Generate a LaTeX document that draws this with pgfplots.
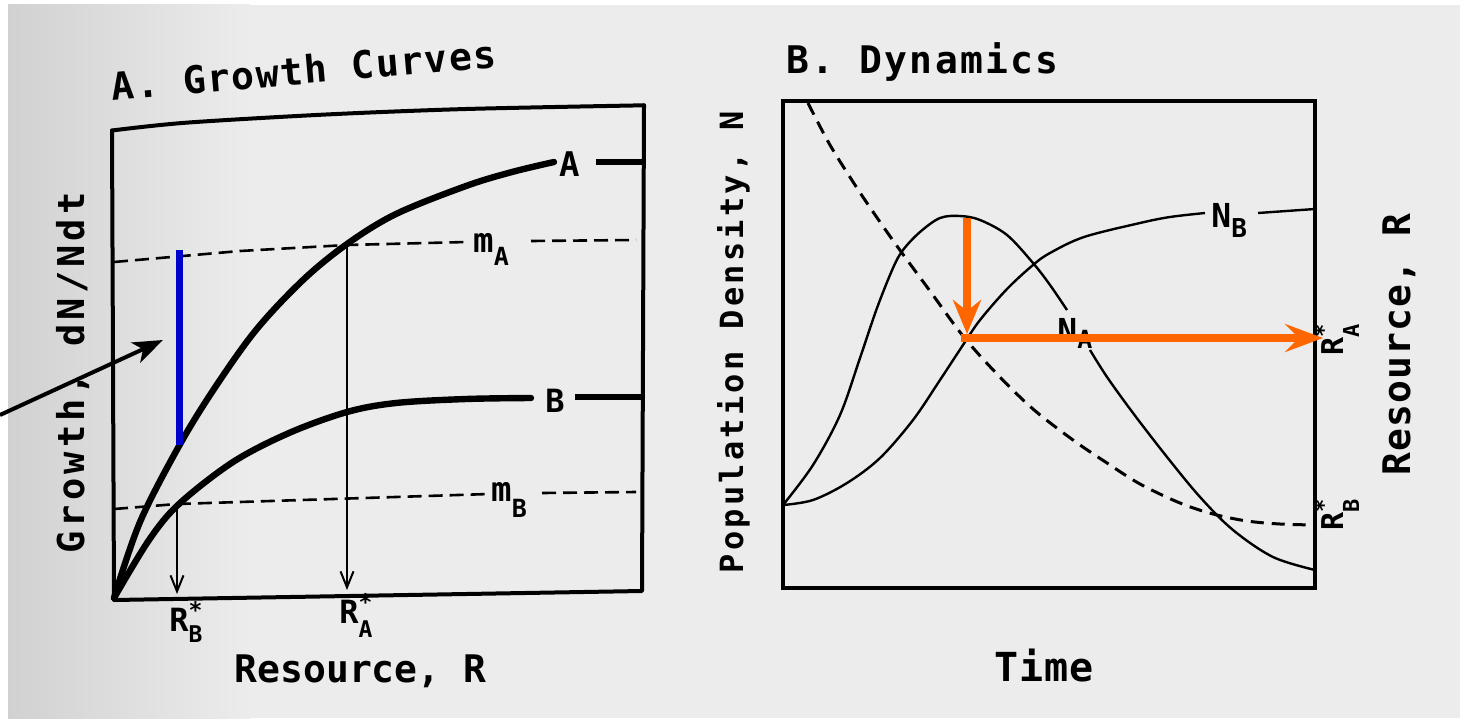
\documentclass[border=0pt]{standalone}
\usepackage{pgfplots}
\pgfplotsset{compat=1.18}
\usepackage{fontspec}
\setmainfont{DejaVu Sans Mono}
\usetikzlibrary{arrows.meta}

\definecolor{paper}{RGB}{236,236,236}
\definecolor{markblue}{RGB}{0,0,204}
\definecolor{markorange}{RGB}{255,102,0}

% size, letter space, text
\newcommand\lbl[3]{{\fontsize{#1pt}{#1pt}\selectfont\bfseries\addfontfeatures{LetterSpace=#2}#3}}
% size, letter, subsize, subscript, drop
\newcommand\nsub[5]{{\bfseries\fontsize{#1pt}{#1pt}\selectfont #2\fontsize{#3pt}{#3pt}\selectfont\raisebox{-#5pt}{#4}}}
% R with star and subscript: size, subsize, subscript, star raise, drop
\newcommand\rstar[5]{{\bfseries\fontsize{#1pt}{#1pt}\selectfont R\fontsize{#2pt}{#2pt}\selectfont\rlap{\raisebox{#4pt}{*}}\raisebox{-#5pt}{#3}}}

\pgfplotsset{
  frame/.style={line width=2pt, line cap=round, line join=round},
  thickcurve/.style={line width=3.2pt, smooth, tension=0.55, line cap=round},
  thincurve/.style={line width=1.2pt, smooth, tension=0.55},
  dashA/.style={line width=1.3pt, dash pattern=on 7pt off 3.5pt},
  dashB/.style={line width=1.5pt, dash pattern=on 6.5pt off 4pt, smooth, tension=0.55},
  drop/.style={line width=1pt, -{Straight Barb[length=8pt,width=6.5pt]}},
}

\begin{document}
\begin{tikzpicture}[every node/.append style={inner sep=0pt}]
\useasboundingbox (0,0) rectangle (730pt,359pt);
\fill[white] (0,0) rectangle (730pt,359pt);
\fill[paper] (4pt,0) rectangle (730pt,356.5pt);
\shade[left color=black!18, right color=paper] (4pt,0) rectangle (125pt,356.5pt);

% ---------- A. Growth Curves ----------
\begin{axis}[
  at={(189.25pt,184pt)}, anchor=center, scale only axis,
  width=265.5pt, height=250pt,
  xmin=113, xmax=644, ymin=100, ymax=600, y dir=reverse,
  hide axis, clip=false]
  % frame (the scan is slightly warped)
  \addplot[frame] coordinates {(112,130.5)(114,600)(642,591)(644,105.3)};
  \addplot[frame, smooth] coordinates {(112,130.5)(186,122.7)(326,114.5)(466,109)(644,105.3)};
  % mortality lines
  \addplot[dashA] coordinates {(114,262)(240,251)(347,245)(466,242)};
  \addplot[dashA] coordinates {(531,241)(636,240)};
  \addplot[dashA] coordinates {(114,509)(177,504)(489,494)};
  \addplot[dashA] coordinates {(542,493)(636,492)};
  % growth curves
  \addplot[thickcurve] coordinates {(114,598)(140,522)(179,446)(214,389)(256,330)(303,280)(347,244)(396,214)(466,186)(512,172)(554,162)};
  \addplot[line width=3.2pt] coordinates {(596,162)(644,162)};
  \addplot[thickcurve] coordinates {(114,598)(149,540)(179,504)(233,462)(289,433)(347,412)(396,403)(466,399)(531,398)};
  \addplot[line width=3.2pt] coordinates {(575,397)(643,397)};
  % R* drops
  \addplot[drop] coordinates {(177,504)(177,594)};
  \addplot[drop] coordinates {(347,245)(347,590)};
  % highlight
  \addplot[markblue, line width=3.5pt] coordinates {(179.5,250)(179.5,445)};
  \addplot[black, line width=2pt, -{Stealth[length=15pt,width=11pt,inset=4pt]}] coordinates {(0,415)(163,340)};
  % texts
  \node[rotate=5, anchor=base] at (axis cs:305,84) {\lbl{19}{4}{A. Growth Curves}};
  \node[anchor=base] at (axis cs:360.5,682) {\lbl{19}{0}{Resource, R}};
  \node[rotate=90, anchor=base] at (axis cs:84,373) {\lbl{18.5}{11}{Growth, dN/Ndt}};
  \node[anchor=base west] at (axis cs:559,176) {\lbl{17}{0}{A}};
  \node[anchor=base west] at (axis cs:545,412) {\lbl{16}{0}{B}};
  \node[anchor=base west] at (axis cs:473,252) {\nsub{17}{m}{12.5}{A}{6.5}};
  \node[anchor=base west] at (axis cs:491,501) {\nsub{17}{m}{12.5}{B}{8}};
  \node[anchor=base west] at (axis cs:169,631) {\rstar{16}{11.5}{B}{6.5}{5.5}};
  \node[anchor=base west] at (axis cs:339,623) {\rstar{16}{11.5}{A}{6.5}{7}};
\end{axis}

% ---------- B. Dynamics ----------
\begin{axis}[
  at={(524.5pt,186.75pt)}, anchor=center, scale only axis,
  width=266pt, height=243.5pt,
  xmin=783, xmax=1315, ymin=101, ymax=588, y dir=reverse,
  xtick=\empty, ytick=\empty,
  axis line style={line width=2pt},
  clip=false]
  % resource R
  \addplot[dashB] coordinates {(808,103)(830,145)(857,188)(880,222)(902,253)(930,291)(963,336)(997,374)(1033,409)(1073,440)(1107,463)(1140,484)(1180,503)(1213,514)(1247,521)(1280,524)(1315,525)};
  % N_A
  \addplot[thincurve] coordinates {(783,505)(813,465)(840,415)(860,358)(877,308)(893,268)(903,250)(920,232)(940,218)(960,216)(980,220)(1007,235)(1033,263)(1050,285)(1067,310)};
  \addplot[thincurve] coordinates {(1090,350)(1107,377)(1133,413)(1167,457)(1200,497)(1233,530)(1273,557)(1315,570)};
  % N_B
  \addplot[thincurve] coordinates {(783,505)(813,500)(847,483)(880,458)(913,420)(940,380)(963,345)(980,320)(1007,289)(1033,265)(1050,253)(1084,237)(1140,223)(1170,217)(1205,213)};
  \addplot[line width=1.2pt] coordinates {(1258,213)(1315,209)};
  % texts
  \node[anchor=base west] at (axis cs:1057,342) {\nsub{16.5}{N}{12.5}{A}{3}};
  \node[anchor=base west] at (axis cs:1211,227) {\nsub{16.5}{N}{13}{B}{5}};
  \node[anchor=base west] at (axis cs:786,73) {\lbl{19}{6}{B. Dynamics}};
  \node[anchor=base] at (axis cs:1044,681) {\lbl{20}{3}{Time}};
  \node[rotate=90, anchor=base] at (axis cs:743,342) {\lbl{16}{10}{Population Density, N}};
  \node[rotate=90, anchor=base] at (axis cs:1410,345) {\lbl{19}{3}{Resource, R}};
  \node[rotate=90, anchor=base west] at (axis cs:1343,356) {\rstar{15}{11}{A}{6}{8}};
  \node[rotate=90, anchor=base west] at (axis cs:1343,531) {\rstar{15}{11}{B}{6}{8}};
  % highlight
  \addplot[markorange, line width=3.8pt, -{Stealth[length=17pt,width=14pt,inset=5.5pt]}] coordinates {(967,218)(967,334)};
  \addplot[markorange, line width=3.8pt, -{Stealth[length=19pt,width=14pt,inset=7pt]}] coordinates {(961,338)(1323,338)};
\end{axis}
\end{tikzpicture}
\end{document}
